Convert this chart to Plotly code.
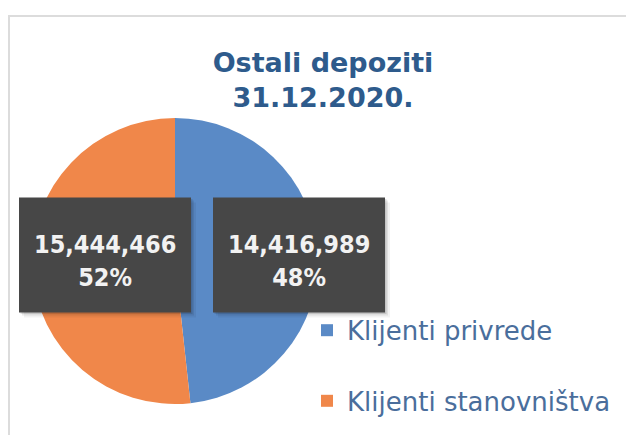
import plotly.graph_objects as go

# ==========================================
# Data
# ==========================================

categories = ["Klijenti privrede", "Klijenti stanovništva"]
values = [14416989, 15444466]
colors = ["#5a8ac6", "#f0874a"]

title_lines = ["Ostali depoziti", "31.12.2020."]

W, H = 634, 435
OFF = 8  # page body margin shifts the figure by 8px


def px_x(v):
    # screen pixel from left -> paper fraction
    return (v - OFF) / W


def px_y(v):
    # screen pixel from top -> paper fraction
    return 1 - (v - OFF) / H


# ==========================================
# Pie
# ==========================================

cx, cy, r = 175, 261, 143

fig = go.Figure(
    go.Pie(
        # leading blank line widens the gap between legend rows
        labels=["&nbsp;<br>" + c for c in categories],
        values=values,
        sort=False,
        direction="clockwise",
        rotation=0,
        textinfo="none",
        hovertext=categories,
        hoverinfo="text+value+percent",
        marker=dict(colors=colors, line=dict(width=0)),
        domain=dict(x=[px_x(cx - r), px_x(cx + r)], y=[px_y(cy + r), px_y(cy - r)]),
    )
)

# ==========================================
# Value boxes
# ==========================================

total = sum(values)
box_centers = {"Klijenti privrede": (299, 255), "Klijenti stanovništva": (105, 255)}
box_w, box_h = 172, 115

shapes = []
annotations = []
for name, val in zip(categories, values):
    bx, by = box_centers[name]
    x0, x1 = bx - box_w / 2, bx + box_w / 2
    y0, y1 = by - box_h / 2, by + box_h / 2
    # soft shadow
    for off, alpha in [(5, 0.05), (3, 0.08), (1.5, 0.12)]:
        shapes.append(dict(
            type="rect", xref="paper", yref="paper",
            x0=px_x(x0 + off), x1=px_x(x1 + off),
            y0=px_y(y1 + off), y1=px_y(y0 + off),
            fillcolor=f"rgba(0,0,0,{alpha})", line=dict(width=0), layer="above",
        ))
    shapes.append(dict(
        type="rect", xref="paper", yref="paper",
        x0=px_x(x0), x1=px_x(x1), y0=px_y(y1), y1=px_y(y0),
        fillcolor="#474747", line=dict(width=0), layer="above",
    ))
    annotations.append(dict(
        x=px_x(bx), y=px_y(by + 6), xref="paper", yref="paper",
        xanchor="center", yanchor="middle",
        text=f"{val:,}<br>{round(val / total * 100)}%",
        showarrow=False,
        font=dict(family="DejaVu Sans Condensed", size=25, color="#f2f2f2", weight="bold"),
        align="center",
    ))

# frame
shapes.append(dict(
    type="rect", xref="paper", yref="paper",
    x0=px_x(9), x1=px_x(650), y0=px_y(450), y1=px_y(16),
    line=dict(color="#dcdcdc", width=2), fillcolor="rgba(0,0,0,0)", layer="below",
))

fig.update_layout(
    width=W,
    height=H,
    margin=dict(l=0, r=0, t=0, b=0),
    paper_bgcolor="white",
    plot_bgcolor="white",
    title=dict(
        text="<br>".join(title_lines),
        x=px_x(323), xanchor="center",
        y=px_y(72), yanchor="top",
        font=dict(family="DejaVu Sans", size=27, color="#2e5b8c", weight="bold"),
    ),
    showlegend=True,
    legend=dict(
        x=px_x(307), y=px_y(273), xanchor="left", yanchor="top",
        font=dict(family="DejaVu Sans", size=26, color="#4a6e9c"),
        bgcolor="rgba(0,0,0,0)",
        itemwidth=30,
        valign="bottom",
    ),
    shapes=shapes,
    annotations=annotations,
)

fig.write_html("out.html")
